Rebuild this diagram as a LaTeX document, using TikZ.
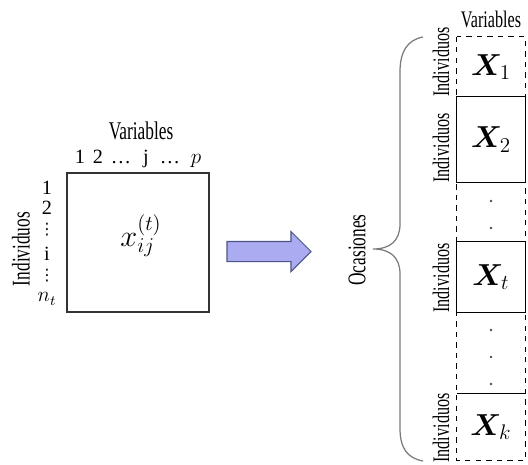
\documentclass[tikz,border=0pt]{standalone}
\usepackage{fontspec}
\usepackage{bm}
\usepackage{tikz}
\usetikzlibrary{shapes.arrows}
\setmainfont{Liberation Serif}
\newfontfamily\narrowserif[FakeStretch=0.68]{Liberation Serif}
\newfontfamily\dotsfont{DejaVu Sans}
\definecolor{arrowblue}{HTML}{ABABF2}
\definecolor{arrowedge}{HTML}{4C5585}
\definecolor{bracegray}{HTML}{7A7A7A}

\begin{document}
\begin{tikzpicture}[x=0.02cm, y=-0.02cm,
        bigtitle/.style={font=\fontsize{14.5}{16}\narrowserif, inner sep=0pt},
        smalltitle/.style={font=\fontsize{13.5}{15}\narrowserif, inner sep=0pt},
        index/.style={font=\fontsize{11.5}{13}\selectfont, inner sep=0pt},
        rowdots/.style={font=\fontsize{9}{10}\dotsfont, inner sep=0pt},
        matbox/.style={draw=black!80, line width=0.8pt, minimum width=2.84cm, minimum height=2.78cm, inner sep=0pt},
        cell/.style={minimum width=1.36cm, inner sep=0pt, font=\fontsize{16.5}{18}\selectfont},
        celldot/.style={circle, fill=black!70, minimum size=1.6pt, inner sep=0pt},
        bigarrow/.style={single arrow, draw=arrowedge, fill=arrowblue, line width=0.6pt,
            minimum height=1.68cm, minimum width=0.78cm, single arrow head extend=0.2cm, inner sep=0.19cm}
    ]
        \useasboundingbox (0,0) rectangle (528,464);

        % left matrix
        \node[matbox] (mat) at (138,242.5) {};
        \node[font=\fontsize{18}{20}\selectfont] (xij) at (141,236) {$x_{ij}^{(t)}$};
        \node[bigtitle] (varleft) at (141,131) {Variables};
        \node[index, anchor=base] (c1) at (80,163) {1};
        \node[index, anchor=base] (c2) at (98,163) {2};
        \node[index, anchor=base] (c3) at (121,163) {\ldots};
        \node[index, anchor=base] (cj) at (146,163) {j};
        \node[index, anchor=base] (c5) at (170,163) {\ldots};
        \node[index, anchor=base] (cp) at (196,163) {$p$};

        \node[index] (r1) at (47,188) {1};
        \node[index] (r2) at (47,208) {2};
        \node[rowdots] (r3) at (47,230) {⋮};
        \node[index] (ri) at (47,254) {i};
        \node[rowdots] (r5) at (47,276) {⋮};
        \node[index] (rn) at (47,299) {$n_t$};
        \node[bigtitle, rotate=90] (indleft) at (21,249) {Individuos};

        % arrow
        \node[bigarrow] (arr) at (264,251.5) {};

        % right column
        \node[cell, minimum height=1.2cm] (X1) at (491,67) {$\bm{X}_1$};
        \node[cell, minimum height=1.7cm] (X2) at (491,139.5) {$\bm{X}_2$};
        \node[cell, minimum height=1.4cm] (Xt) at (491,277) {$\bm{X}_t$};
        \node[cell, minimum height=1.32cm] (Xk) at (491,427) {$\bm{X}_k$};

        \draw[dashed, line width=0.6pt] (X1.north west) rectangle (Xk.south east);
        \draw[line width=0.6pt] (X2.north west) rectangle (X2.south east);
        \draw[line width=0.6pt] (Xt.north west) rectangle (Xt.south east);
        \draw[line width=0.6pt] (Xk.north west) -- (Xk.north east);

        \node[celldot] (d1) at (491,201) {};
        \node[celldot] (d2) at (491,228) {};
        \node[celldot] (d3) at (491,330) {};
        \node[celldot] (d4) at (491,357) {};
        \node[celldot] (d5) at (491,384) {};

        \node[smalltitle] (varright) at (491,19) {Variables};
        \node[smalltitle, rotate=90] (ind1) at (441,62) {Individuos};
        \node[smalltitle, rotate=90] (ind2) at (441,148) {Individuos};
        \node[smalltitle, rotate=90] (indt) at (441,278) {Individuos};
        \node[smalltitle, rotate=90] (indk) at (441,428) {Individuos};

        % brace
        \draw[bracegray, line width=0.7pt] (423,37) .. controls (407,40) and (400,52) .. (400,72)
            -- (400,224) .. controls (400,241) and (390,249) .. (373,249)
            .. controls (390,249) and (400,257) .. (400,274)
            -- (400,428) .. controls (400,448) and (407,458) .. (423,461);
        \node[bigtitle, rotate=90] (ocas) at (357,250) {Ocasiones};
    \end{tikzpicture}
\end{document}
